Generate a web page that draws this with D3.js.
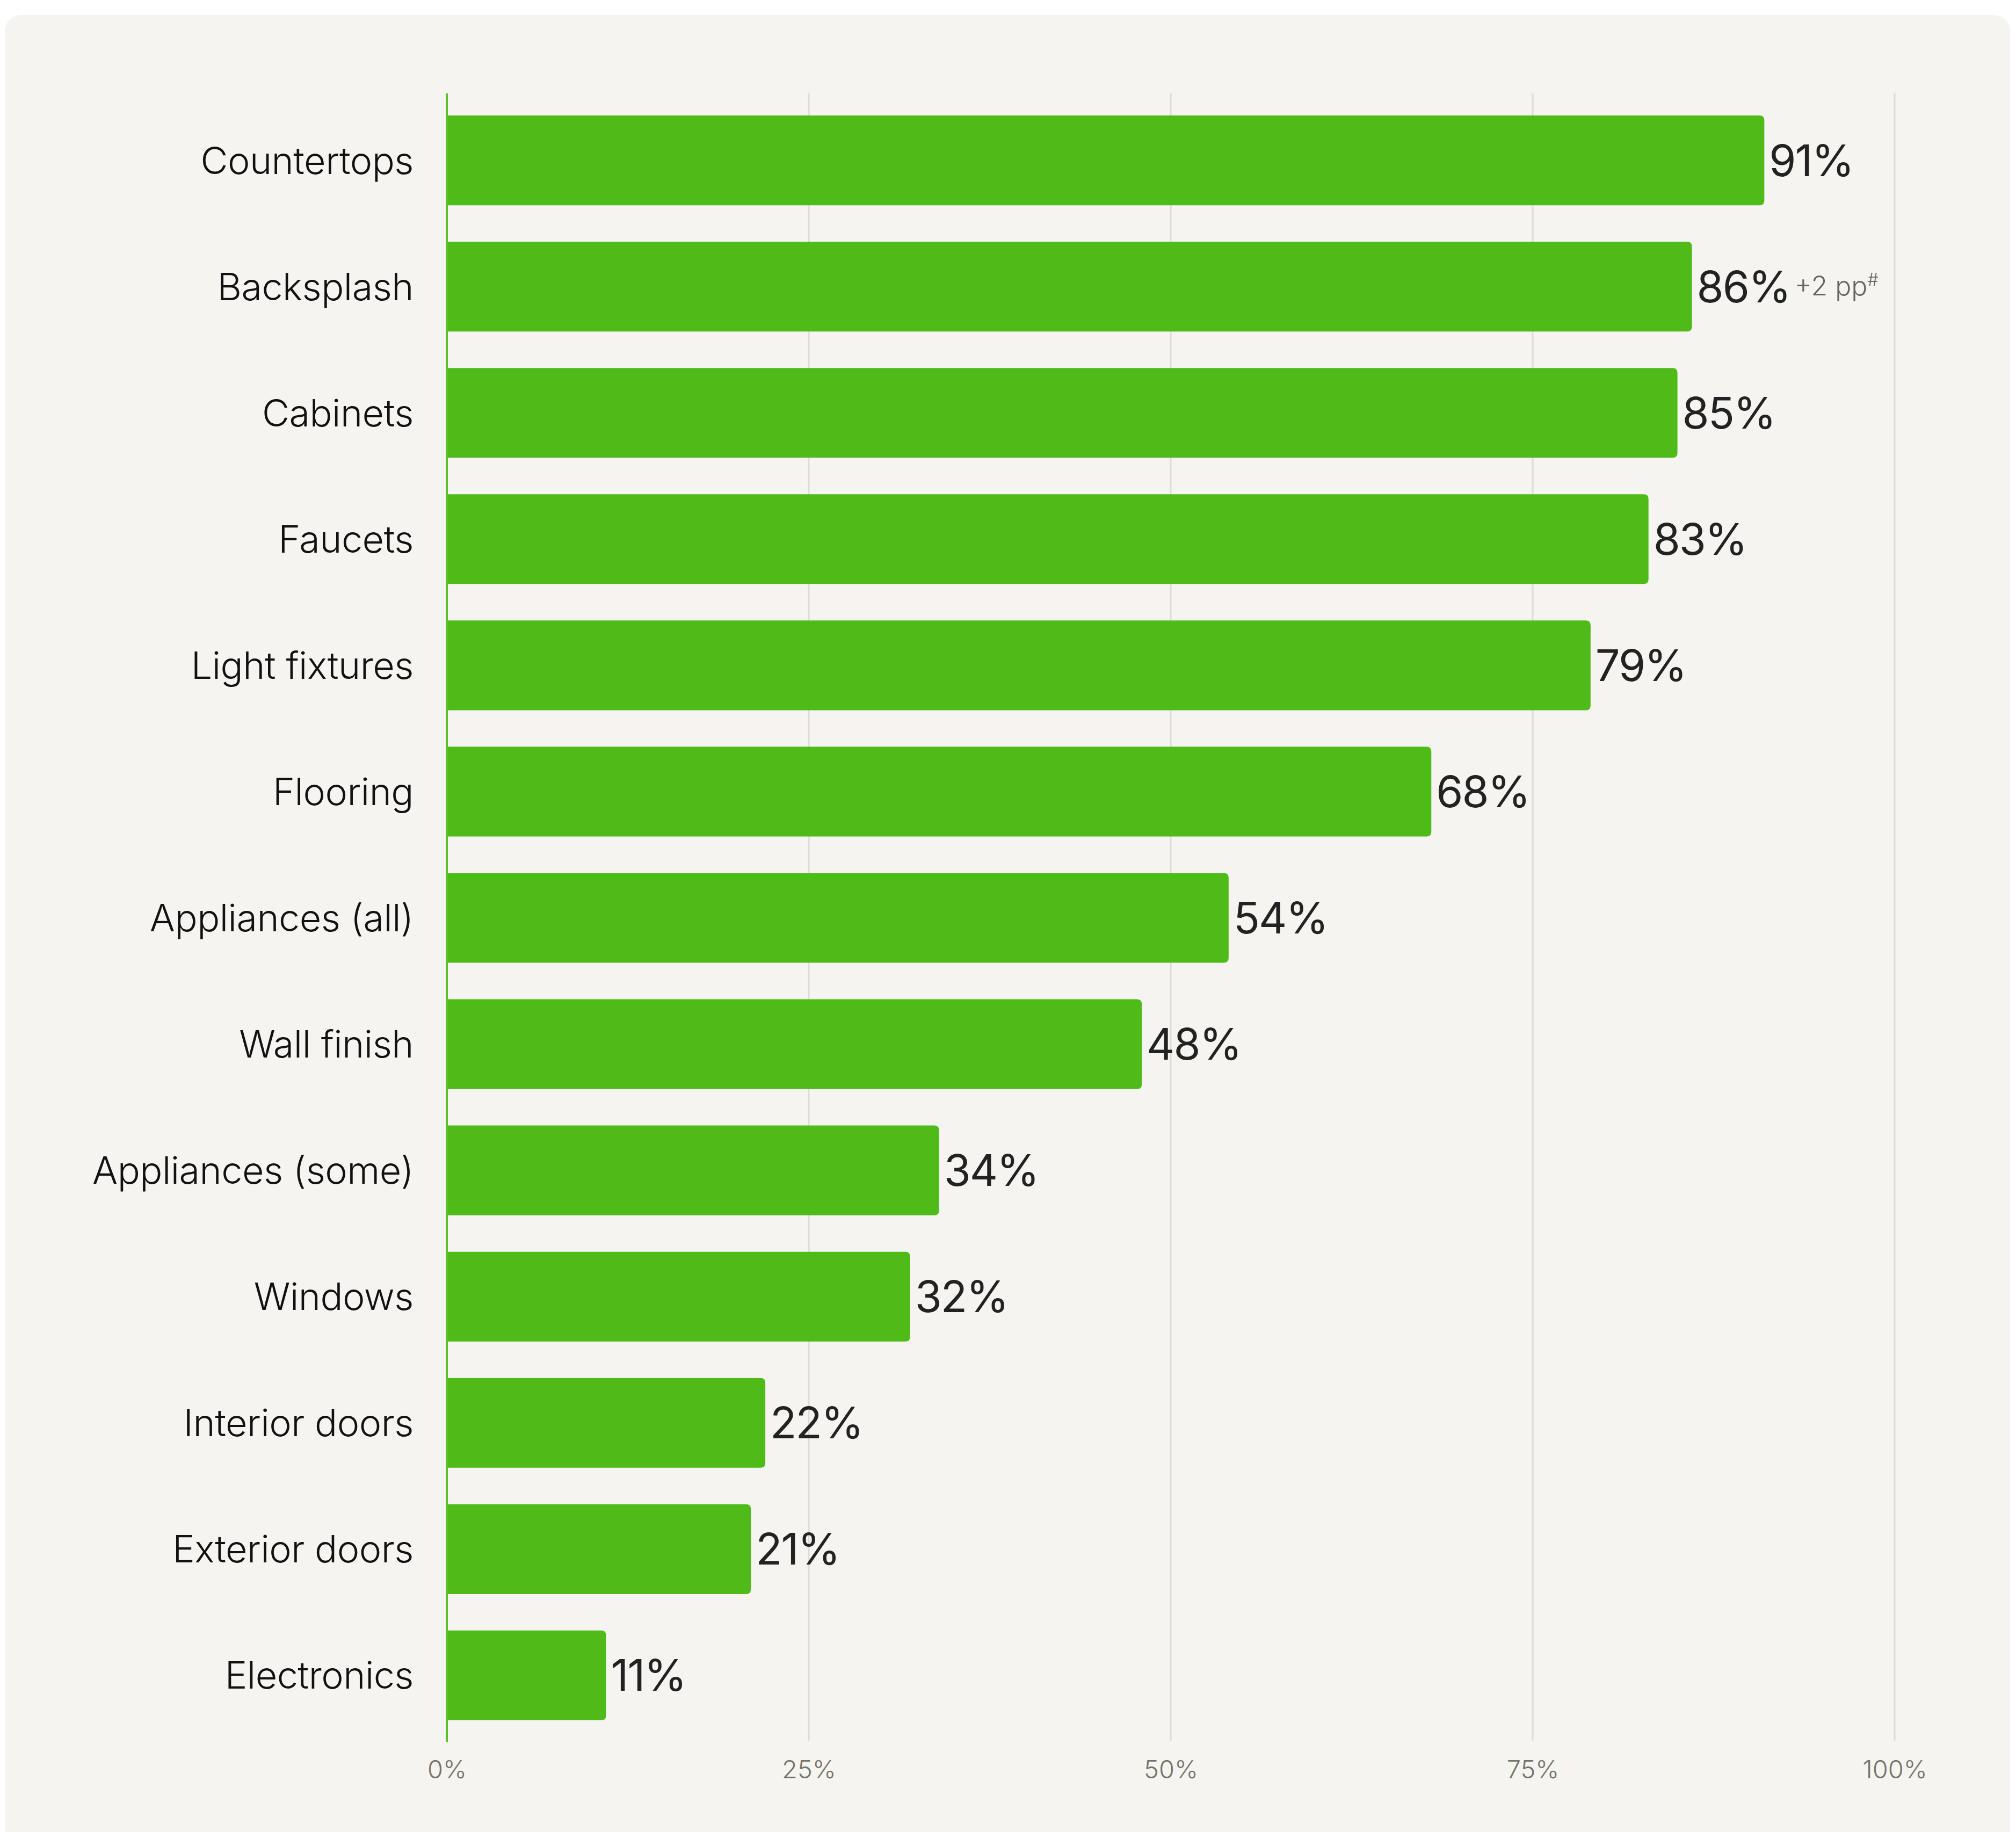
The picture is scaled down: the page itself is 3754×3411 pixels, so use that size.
<!DOCTYPE html>
<html>
<head>
<meta charset="utf-8">
<script src="https://cdn.jsdelivr.net/npm/d3@7"></script>
<style>
  html, body { margin: 0; padding: 0; background: #ffffff; }
  svg { display: block; }
  text { font-family: Inter, "Noto Sans", sans-serif; }
</style>
</head>
<body>
<svg id="chart"></svg>
<script>
// Share of kitchen remodels that replaced each item
const categories = [
  "Countertops", "Backsplash", "Cabinets", "Faucets", "Light fixtures",
  "Flooring", "Appliances (all)", "Wall finish", "Appliances (some)",
  "Windows", "Interior doors", "Exterior doors", "Electronics"
];
const shares = [91, 86, 85, 83, 79, 68, 54, 48, 34, 32, 22, 21, 11];
// Year-over-year change notes shown beside selected bars
const changeNotes = [null, "+2 pp", null, null, null, null, null, null, null, null, null, null, null];
const tickValues = [0, 25, 50, 75, 100];
const tickLabels = ["0%", "25%", "50%", "75%", "100%"];

const W = 3754, H = 3411;
const margin = { left: 832, right: 226, top: 174, bottom: 167 };

const svg = d3.select("#chart").attr("width", W).attr("height", H);

// card background
svg.append("rect")
  .attr("x", 9).attr("y", 28)
  .attr("width", 3734).attr("height", 3420)
  .attr("rx", 30).attr("ry", 30)
  .attr("fill", "#f5f4f0");

const x = d3.scaleLinear().domain([0, 100]).range([margin.left, W - margin.right]);
const y = d3.scaleBand()
  .domain(categories)
  .range([margin.top, H - margin.bottom])
  .paddingInner(0.289)
  .paddingOuter(0.1744);

const gridBottom = H - margin.bottom - 3;

// vertical gridlines
svg.append("g")
  .selectAll("line")
  .data(tickValues.filter(v => v > 0))
  .join("line")
  .attr("x1", d => x(d)).attr("x2", d => x(d))
  .attr("y1", margin.top).attr("y2", gridBottom)
  .attr("stroke", "#dddcd7")
  .attr("stroke-width", 3);

// x axis tick labels
const xAxis = d3.axisBottom(x)
  .tickValues(tickValues)
  .tickFormat((d, i) => tickLabels[i])
  .tickSize(0)
  .tickPadding(0);

const gx = svg.append("g")
  .attr("transform", `translate(0, ${3311})`)
  .call(xAxis);
gx.select(".domain").remove();
gx.selectAll("text")
  .attr("dy", null)
  .attr("y", 0)
  .attr("fill", "#74736b")
  .attr("font-size", 47)
  .attr("font-weight", 350)
  .attr("font-family", "Inter, sans-serif");

// bars with rounded right end
const r = 9;
function barPath(d) {
  const x0 = x(0), x1 = x(d.v), y0 = y(d.c), h = y.bandwidth();
  return `M${x0},${y0}H${x1 - r}Q${x1},${y0} ${x1},${y0 + r}V${y0 + h - r}Q${x1},${y0 + h} ${x1 - r},${y0 + h}H${x0}Z`;
}
const rows = categories.map((c, i) => ({ c, v: shares[i], note: changeNotes[i] }));

svg.append("g")
  .selectAll("path")
  .data(rows)
  .join("path")
  .attr("d", barPath)
  .attr("fill", "#4ebb18");

// value labels
const valueLabels = svg.append("g")
  .selectAll("text")
  .data(rows)
  .join("text")
  .attr("x", d => x(d.v) + 9)
  .attr("y", d => y(d.c) + y.bandwidth() / 2 + 29)
  .attr("fill", "#222222")
  .attr("font-size", 81)
  .attr("letter-spacing", -2)
  .text(d => d.v + "%");

// change notes
valueLabels.each(function(d) {
  if (!d.note) return;
  const bb = this.getBBox();
  const t = svg.append("text")
    .attr("x", bb.x + bb.width + 8)
    .attr("y", y(d.c) + y.bandwidth() / 2 + 16)
    .attr("fill", "#66655f")
    .attr("font-size", 50)
    .attr("font-weight", 350)
    .text(d.note);
  t.append("tspan")
    .attr("font-size", 32)
    .attr("dy", -18)
    .text("#");
});

// category labels
svg.append("g")
  .selectAll("text")
  .data(rows)
  .join("text")
  .attr("x", x(0) - 62)
  .attr("y", d => y(d.c) + y.bandwidth() / 2 + 25)
  .attr("text-anchor", "end")
  .attr("fill", "#111111")
  .attr("font-size", 70)
  .attr("font-weight", 350)
  .attr("letter-spacing", -0.5)
  .text(d => d.c);

// y axis line
svg.append("line")
  .attr("x1", x(0)).attr("x2", x(0))
  .attr("y1", margin.top).attr("y2", H - margin.bottom)
  .attr("stroke", "#5cc22a")
  .attr("stroke-width", 4);
</script>
</body>
</html>
